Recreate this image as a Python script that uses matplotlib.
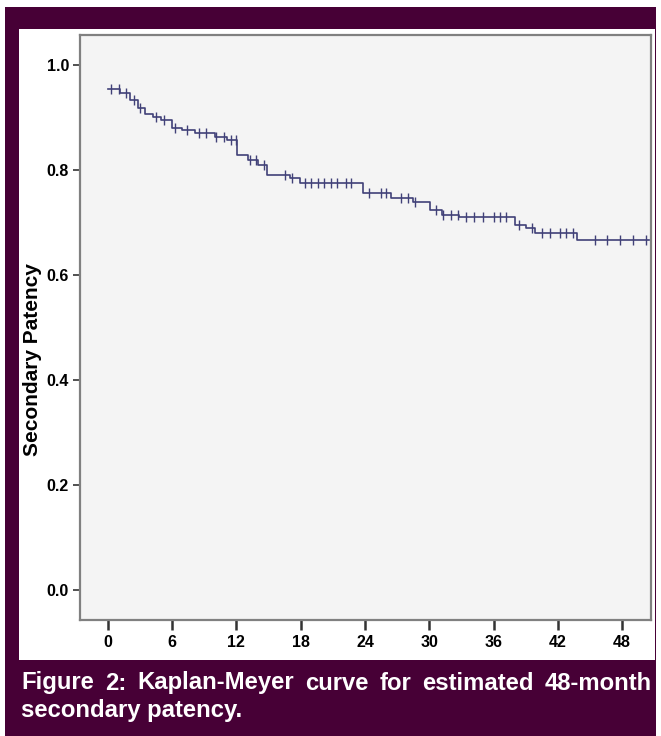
# km_patency.py
# Curva de Kaplan-Meier para permeabilidad secundaria a 48 meses

import numpy as np
import matplotlib
matplotlib.use("Agg")
import matplotlib.pyplot as plt
from matplotlib.patches import Rectangle

# ─── Datos ────────────────────────────────────────────────────────────────────

tiempos_evento = [0, 1.1, 2.1, 2.8, 3.5, 4.2, 5.0, 6.0, 6.9, 8.1, 10.0, 11.1,
                  12.1, 13.1, 14.0, 14.9, 17.0, 17.9, 23.8, 26.4, 28.5, 30.1,
                  31.2, 32.8, 38.0, 39.0, 39.9, 43.8]
supervivencia = [0.954, 0.947, 0.933, 0.918, 0.907, 0.900, 0.895, 0.880, 0.876,
                 0.870, 0.863, 0.857, 0.829, 0.819, 0.810, 0.790, 0.785, 0.775,
                 0.757, 0.747, 0.739, 0.724, 0.714, 0.710, 0.696, 0.690, 0.680,
                 0.667]
tiempo_final = 50.5

tiempos_censura = [0.3, 1.0, 1.7, 2.4, 3.0, 4.5, 5.2, 6.3, 7.4, 8.5, 9.2, 10.1,
                   10.8, 11.5, 12.0, 13.3, 13.8, 14.6, 16.5, 17.2, 18.4, 19.0,
                   19.6, 20.2, 20.8, 21.4, 22.2, 22.7, 24.4, 25.5, 26.0, 27.4,
                   28.0, 28.7, 30.6, 31.3, 32.0, 32.7, 33.4, 34.2, 35.0, 36.0,
                   36.6, 37.2, 38.4, 39.6, 40.5, 41.3, 42.2, 42.8, 43.4, 45.5,
                   46.6, 47.8, 49.0, 50.2]

ticks_x = [0, 6, 12, 18, 24, 30, 36, 42, 48]
ticks_y = [0.0, 0.2, 0.4, 0.6, 0.8, 1.0]

etiqueta_y = "Secondary Patency"
pie_linea1 = "Figure 2: Kaplan-Meyer curve for estimated 48-month"
pie_linea2 = "secondary patency."

# ─── Figura ───────────────────────────────────────────────────────────────────

W, H = 661, 736
MARRON = "#470036"
TRAZO = "#414178"
FUENTE = "Liberation Sans"

fig = plt.figure(figsize=(W / 100, H / 100), dpi=100)
fig.patch.set_facecolor("white")


def caja_px(x0, y0, x1, y1, color, z):
    # Rectángulo en coordenadas de píxel (origen arriba a la izquierda)
    fig.patches.append(Rectangle((x0 / W, 1 - y1 / H), (x1 - x0) / W, (y1 - y0) / H,
                                 transform=fig.transFigure, facecolor=color,
                                 edgecolor="none", zorder=z))


caja_px(5, 7, 656, 736, MARRON, 0)
caja_px(19, 29, 655, 660, "white", 1)

ax = fig.add_axes([80 / W, 1 - 620 / H, 571 / W, 585 / H])
ax.set_facecolor("#f4f4f4")
ax.set_zorder(2)

# Curva escalonada
t = list(tiempos_evento) + [tiempo_final]
s = list(supervivencia) + [supervivencia[-1]]
ax.step(t, s, where="post", color=TRAZO, linewidth=1.2, zorder=3)

# Marcas de censura sobre la curva
idx = np.searchsorted(tiempos_evento, tiempos_censura, side="right") - 1
s_cens = np.array(supervivencia)[idx]
ax.plot(tiempos_censura, s_cens, linestyle="none", marker="|", markersize=7,
        markeredgewidth=1.0, color=TRAZO, zorder=4)

ax.set_xlim(-2.6, 50.7)
ax.set_ylim(-0.057, 1.057)
ax.set_xticks(ticks_x)
ax.set_yticks(ticks_y)
ax.set_xticklabels([str(v) for v in ticks_x])
ax.set_yticklabels([f"{v:.1f}" for v in ticks_y])

for lado in ["left", "right", "top", "bottom"]:
    ax.spines[lado].set_color("#808080")
    ax.spines[lado].set_linewidth(1.6)

ax.tick_params(axis="x", direction="out", length=7, width=1.8, color="#333333", pad=4)
ax.tick_params(axis="y", direction="out", length=5, width=1.2, color="#333333", pad=3)
for lbl in ax.get_xticklabels() + ax.get_yticklabels():
    lbl.set_fontfamily(FUENTE)
    lbl.set_fontweight("bold")
    lbl.set_fontsize(11.5)

fig.text(33 / W, 1 - 360 / H, etiqueta_y, rotation=90, ha="center", va="center",
         fontfamily=FUENTE, fontweight="bold", fontsize=15, color="black")

# ─── Pie de figura (texto justificado) ────────────────────────────────────────

fig.canvas.draw()
render = fig.canvas.get_renderer()
x_izq, x_der = 21, 652
y1_px, y2_px = 683, 710
estilo = dict(fontfamily=FUENTE, fontweight="bold", fontsize=17.2, color="white",
              va="center", ha="left")

palabras = pie_linea1.split(" ")
anchos = []
for p in palabras:
    tmp = fig.text(0, 0, p, **estilo)
    anchos.append(tmp.get_window_extent(render).width)
    tmp.remove()
hueco = (x_der - x_izq - sum(anchos)) / (len(palabras) - 1)
x = x_izq
for p, a in zip(palabras, anchos):
    fig.text(x / W, 1 - y1_px / H, p, **estilo)
    x += a + hueco

fig.text(x_izq / W, 1 - y2_px / H, pie_linea2, **estilo)

fig.savefig("out.png", dpi=100)
